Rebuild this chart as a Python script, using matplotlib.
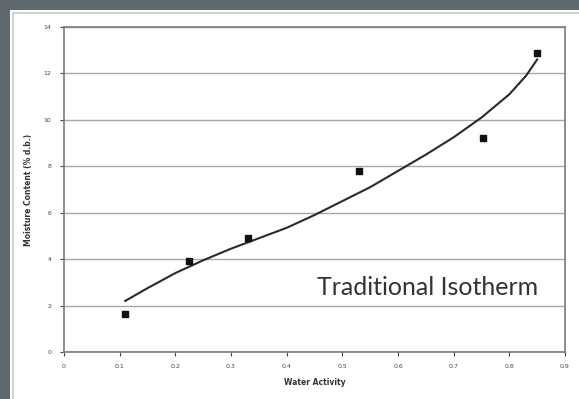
import numpy as np
import matplotlib
matplotlib.use("Agg")
import matplotlib.pyplot as plt
from matplotlib.patches import Rectangle

# measured isotherm points
aw_points = [0.11, 0.225, 0.33, 0.53, 0.753, 0.85]
mc_points = [1.65, 3.9, 4.9, 7.8, 9.2, 12.9]

# fitted curve
aw_curve = [0.11, 0.15, 0.2, 0.25, 0.3, 0.35, 0.4, 0.45, 0.5, 0.55,
            0.6, 0.65, 0.7, 0.75, 0.8, 0.83, 0.85]
mc_curve = [2.2, 2.75, 3.4, 3.95, 4.45, 4.9, 5.35, 5.9, 6.5, 7.1,
            7.8, 8.5, 9.25, 10.1, 11.1, 11.9, 12.6]

x_ticks = [0, 0.1, 0.2, 0.3, 0.4, 0.5, 0.6, 0.7, 0.8, 0.9]
y_ticks = [0, 2, 4, 6, 8, 10, 12, 14]

W, H = 579, 399
fig = plt.figure(figsize=(W / 100, H / 100), dpi=100)
fig.patch.set_facecolor("#5e6970")

# white panel with a faint inner frame
fig.patches.append(Rectangle((10 / W, 0), 1 - 10 / W, (H - 10) / H,
                             transform=fig.transFigure, facecolor="white",
                             edgecolor="none", zorder=-2))
fig.patches.append(Rectangle((13 / W, -0.01), 1, (H - 13) / H + 0.01,
                             transform=fig.transFigure, facecolor="none",
                             edgecolor="#c8c8c8", lw=1.2, zorder=-1))

ax = fig.add_axes([64 / W, (H - 352) / H, (565 - 64) / W, (352 - 27) / H])
ax.set_zorder(2)
ax.set_facecolor("white")

ax.plot(aw_curve, mc_curve, color="#2a2a2a", lw=1.5, zorder=3)
ax.scatter(aw_points, mc_points, marker="s", s=13, color="#111111", zorder=4)

ax.set_xlim(0, 0.9)
ax.set_ylim(0, 14)
ax.set_xticks(x_ticks)
ax.set_yticks(y_ticks)
ax.set_xticklabels(["0", "0.1", "0.2", "0.3", "0.4", "0.5", "0.6", "0.7", "0.8", "0.9"])
ax.tick_params(labelsize=4.5, colors="#444444", length=3, width=0.8,
               direction="out", pad=6)
ax.yaxis.grid(True, color="#a8a8a8", lw=1.0)
ax.set_axisbelow(True)
for s in ax.spines.values():
    s.set_color("#7a7a7a")
    s.set_linewidth(1.2)

ax.set_xlabel("Water Activity", fontsize=5.5, fontweight="bold",
              color="#333333", labelpad=6)
ax.set_ylabel("Moisture Content (% d.b.)", fontsize=5.5, fontweight="bold",
              color="#333333", labelpad=8)

ax.text(0.852, 2.45, "Traditional Isotherm", ha="right", va="baseline",
        fontsize=18, family="Lato", color="#333333", zorder=5,
        bbox=dict(facecolor="white", edgecolor="none", pad=1))

fig.savefig("out.png", dpi=100, facecolor=fig.get_facecolor())
